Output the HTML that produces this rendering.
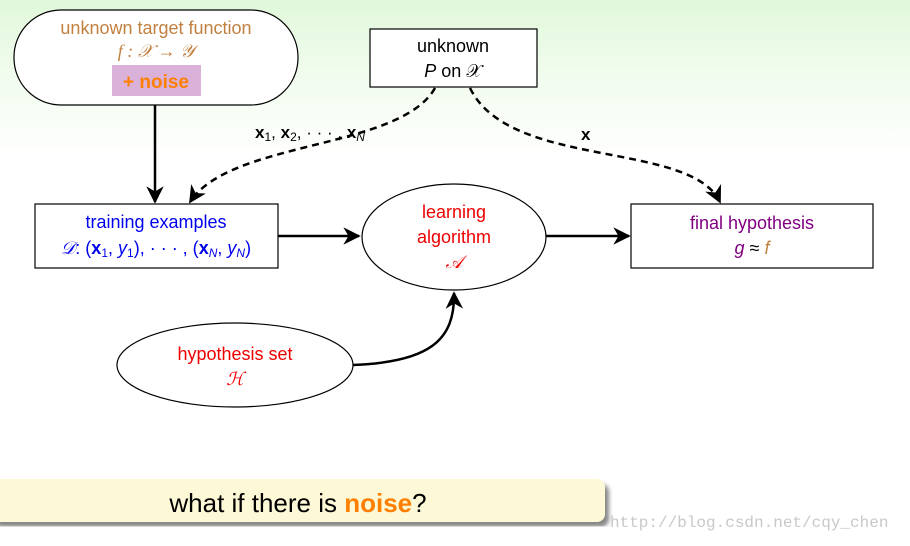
<!DOCTYPE html>
<html><head><style>body{margin:0;width:910px;height:541px;overflow:hidden;background:#fff}</style></head><body>
<svg width="910" height="541" xmlns="http://www.w3.org/2000/svg" font-family="Liberation Sans, sans-serif">
<defs>
<linearGradient id="bg" x1="0" y1="0" x2="0" y2="1"><stop offset="0" stop-color="#e0f8da"/><stop offset="0.5" stop-color="#f2fcef"/><stop offset="1" stop-color="#fff"/></linearGradient>
<marker id="ah" viewBox="0 0 10 10" refX="9" refY="5" markerWidth="7" markerHeight="7" orient="auto"><path d="M0,0 L10,5 L0,10 L3,5z" fill="#000"/></marker>
<filter id="sh"><feDropShadow dx="4" dy="5" stdDeviation="2" flood-color="#555" flood-opacity="0.7"/></filter>
</defs>
<rect width="910" height="160" fill="url(#bg)"/>
<rect x="14" y="10" width="284" height="95" rx="47" fill="#fff" stroke="#000" stroke-width="1.2"/>
<text x="156" y="34" font-size="18" fill="#c08040" text-anchor="middle">unknown target function</text>
<text x="156" y="57" font-size="18" fill="#c08040" text-anchor="middle" font-style="italic" font-family="Liberation Serif, serif">f : 𝒳 → 𝒴</text>
<rect x="112" y="65" width="89" height="31" fill="#d9b1d9"/>
<text x="156" y="88" font-size="19" fill="#ff7f00" font-weight="bold" text-anchor="middle">+ noise</text>
<rect x="370" y="29" width="167" height="58" fill="#fff" stroke="#000" stroke-width="1.2"/>
<text x="453" y="52" font-size="18" text-anchor="middle">unknown</text>
<text x="453" y="77" font-size="18" text-anchor="middle"><tspan font-style="italic">P</tspan> on 𝒳</text>
<line x1="155" y1="105" x2="155" y2="202" stroke="#000" stroke-width="2.5" marker-end="url(#ah)"/>
<path d="M435,88 C400,150 230,140 190,202" fill="none" stroke="#000" stroke-width="2.5" stroke-dasharray="7,5" marker-end="url(#ah)"/>
<path d="M470,88 C510,170 690,140 720,202" fill="none" stroke="#000" stroke-width="2.5" stroke-dasharray="7,5" marker-end="url(#ah)"/>
<text x="255" y="138" font-size="17"><tspan font-weight="bold">x</tspan><tspan font-size="12" dy="3">1</tspan><tspan dy="-3">, </tspan><tspan font-weight="bold">x</tspan><tspan font-size="12" dy="3">2</tspan><tspan dy="-3">, · · · , </tspan><tspan font-weight="bold">x</tspan><tspan font-size="12" dy="3" font-style="italic">N</tspan></text>
<text x="581" y="140" font-size="17" font-weight="bold">x</text>
<rect x="35" y="204" width="243" height="64" fill="#fff" stroke="#000" stroke-width="1.2"/>
<text x="156" y="228" font-size="18" fill="#0000ee" text-anchor="middle">training examples</text>
<text x="156" y="254" font-size="18" fill="#0000ee" text-anchor="middle"><tspan font-style="italic">𝒟</tspan>: (<tspan font-weight="bold">x</tspan><tspan font-size="12" dy="3">1</tspan><tspan dy="-3">, </tspan><tspan font-style="italic">y</tspan><tspan font-size="12" dy="3">1</tspan><tspan dy="-3">), · · · , (</tspan><tspan font-weight="bold">x</tspan><tspan font-size="12" dy="3" font-style="italic">N</tspan><tspan dy="-3">, </tspan><tspan font-style="italic">y</tspan><tspan font-size="12" dy="3" font-style="italic">N</tspan><tspan dy="-3">)</tspan></text>
<line x1="278" y1="236" x2="359" y2="236" stroke="#000" stroke-width="2.5" marker-end="url(#ah)"/>
<ellipse cx="454" cy="237" rx="92" ry="53" fill="#fff" stroke="#000" stroke-width="1.2"/>
<text x="454" y="218" font-size="18" fill="#ee0000" text-anchor="middle">learning</text>
<text x="454" y="243" font-size="18" fill="#ee0000" text-anchor="middle">algorithm</text>
<text x="454" y="268" font-size="18" fill="#ee0000" text-anchor="middle" font-style="italic">𝒜</text>
<line x1="546" y1="236" x2="629" y2="236" stroke="#000" stroke-width="2.5" marker-end="url(#ah)"/>
<rect x="631" y="204" width="242" height="64" fill="#fff" stroke="#000" stroke-width="1.2"/>
<text x="752" y="229" font-size="18" fill="#800080" text-anchor="middle">final hypothesis</text>
<text x="752" y="254" font-size="18" text-anchor="middle"><tspan fill="#800080" font-style="italic">g</tspan> ≈ <tspan fill="#c08040" font-style="italic">f</tspan></text>
<ellipse cx="235" cy="365" rx="118" ry="42" fill="#fff" stroke="#000" stroke-width="1.2"/>
<text x="235" y="360" font-size="18" fill="#ee0000" text-anchor="middle">hypothesis set</text>
<text x="235" y="385" font-size="18" fill="#ee0000" text-anchor="middle" font-style="italic">ℋ</text>
<path d="M353,365 C430,362 455,340 454,293" fill="none" stroke="#000" stroke-width="2.5" marker-end="url(#ah)"/>
<rect x="-10" y="479" width="615" height="43" rx="8" fill="#fdf8d5" filter="url(#sh)"/>
<text x="298" y="512" font-size="26" text-anchor="middle">what if there is <tspan fill="#ff7f00" font-weight="bold">noise</tspan>?</text>
<text x="610" y="527" font-size="16" fill="#c8c8c8" font-family="Liberation Mono, monospace">http://blog.csdn.net/cqy_chen</text>
</svg>
</body></html>
